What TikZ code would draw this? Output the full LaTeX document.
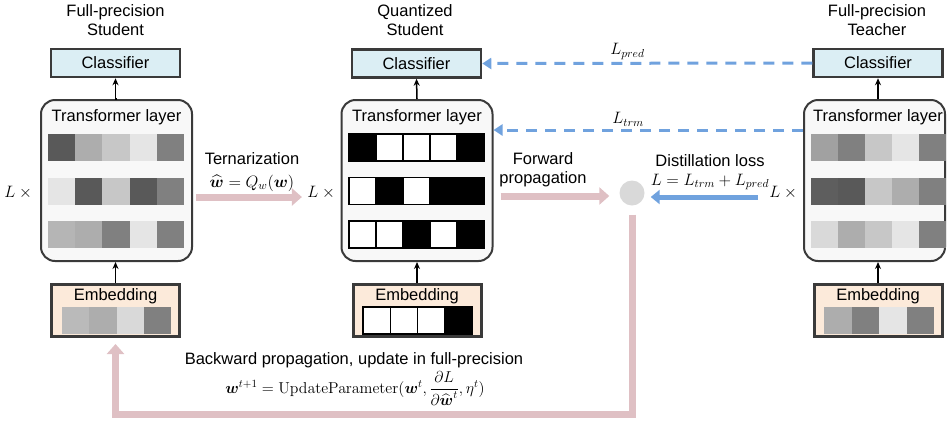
\RequirePackage{fix-cm}
\documentclass[tikz,border=0pt]{standalone}
\usepackage{amsmath}
\usepackage[no-math]{fontspec}
\setmainfont{Liberation Sans}
\usetikzlibrary{arrows.meta, positioning, calc}

\definecolor{clsblue}{RGB}{219,238,244}
\definecolor{embpeach}{RGB}{252,234,218}
\definecolor{layergray}{RGB}{248,248,248}
\definecolor{edgegray}{RGB}{58,58,58}
\definecolor{fwdpink}{RGB}{223,192,196}
\definecolor{lossblue}{RGB}{112,162,222}
\definecolor{sumgray}{RGB}{217,217,217}

\tikzstyle{classifier} = [rectangle, draw=edgegray, line width=2.5pt, fill=clsblue, minimum width=129pt, minimum height=28pt]
\tikzstyle{layer} = [rectangle, rounded corners=14pt, draw=edgegray, line width=2pt, fill=layergray, minimum width=151pt, minimum height=161pt]
\tikzstyle{embed} = [rectangle, draw=edgegray, line width=3pt, fill=embpeach, minimum width=128pt, minimum height=52pt]
\tikzstyle{lbl}  = [inner sep=1pt]
\tikzstyle{up}   = [line width=1.5pt, -{Stealth[length=7pt, width=6pt]}, black]
\tikzstyle{fat}  = [line width=7pt, fwdpink, -{Triangle[length=10pt, width=17pt]}]
\tikzstyle{loss} = [line width=5pt, lossblue, -{Triangle[length=9pt, width=14pt]}]
\tikzstyle{dist} = [line width=3pt, lossblue, dash pattern=on 11pt off 8pt, -{Triangle[length=9pt, width=11pt]}]
\tikzstyle{bw}   = [draw=black, line width=1.2pt]
\tikzstyle{gr}   = []

% x0, centre y, cell width, cell style, colours
\newcommand{\cellrow}[5]{\foreach \c [count=\i from 0] in {#5} \path[#4, fill=\c] ({#1+\i*#3}, {#2-13.5}) rectangle ++(#3, 27);}

\begin{document}
\begin{tikzpicture}[x=1pt, y=-1pt, font=\fontsize{16.5}{19}\selectfont]
	\useasboundingbox (0,0) rectangle (947,424);

	% Full-precision student
	\node (titleS) [align=center] at (115.5,20.5) {Full-precision\\Student};
	\node (clsS) [classifier] at (115.5,63) {Classifier};
	\node (layerS) [layer] at (116.5,180.5) {};
	\node (embS) [embed] at (115.5,310.5) {};
	\node (layerSname) at (116.5,117) {Transformer layer};
	\node (embSname) at (115.5,296) {Embedding};
	\node (lxS) at (20,193) {$L\times{}$};
	\cellrow{48}{147.5}{27.2}{gr}{black!65, black!32, black!22, black!10, black!50}
	\cellrow{48}{191}{27.2}{gr}{black!10, black!65, black!22, black!65, black!50}
	\cellrow{48}{234.5}{27.2}{gr}{black!29, black!32, black!50, black!10, black!50}
	\cellrow{62}{320.5}{27.25}{gr}{black!27, black!32, black!15, black!50}

	% Quantized student
	\node (titleQ) [align=center] at (415,20.5) {Quantized\\Student};
	\node (clsQ) [classifier] at (416.5,63.5) {Classifier};
	\node (layerQ) [layer] at (417,180.5) {};
	\node (embQ) [embed] at (417,310.5) {};
	\node (layerQname) at (417,117) {Transformer layer};
	\node (embQname) at (417,296) {Embedding};
	\node (lxQ) at (323,193) {$L\times{}$};
	\cellrow{349}{147.5}{27}{bw}{black, white, white, white, black}
	\cellrow{349}{191}{27}{bw}{white, black, white, black, black}
	\cellrow{349}{234.5}{27}{bw}{white, white, black, white, black}
	\cellrow{363}{320.5}{27.25}{bw}{white, white, white, black}

	% Full-precision teacher
	\node (titleT) [align=center] at (877,20.5) {Full-precision\\Teacher};
	\node (clsT) [classifier] at (878,63) {Classifier};
	\node (layerT) [layer, minimum width=141pt] at (874.5,180.5) {};
	\node (embT) [embed] at (878,310.5) {};
	\node (layerTname) at (878,117) {Transformer layer};
	\node (embTname) at (878,296) {Embedding};
	\node (lxT) at (785,193) {$L\times{}$};
	\cellrow{811}{147.5}{27}{gr}{black!37, black!50, black!22, black!10, black!50}
	\cellrow{811}{191}{27}{gr}{black!63, black!65, black!22, black!32, black!50}
	\cellrow{811}{234.5}{27}{gr}{black!15, black!32, black!22, black!10, black!50}
	\cellrow{824}{320.5}{27.5}{gr}{black!32, black!50, black!10, black!50}

	% Loss node
	\node (sum) [circle, fill=sumgray, minimum size=25pt, inner sep=0pt] at (632,193) {};
	\coordinate (botline) at (0,414);

	% Labels
	\node (ternS) [lbl] at (252,158.5) {Ternarization};
	\node (ternF) [lbl] at (252,183) {$\widehat{\boldsymbol{w}}=Q_w(\boldsymbol{w})$};
	\node (fwd) [lbl, align=center] at (543,170) {Forward\\propagation};
	\node (distS) [lbl] at (710,161) {Distillation loss};
	\node (distF) [lbl] at (710,182) {$L=L_{trm}+L_{pred}$};
	\node (bwdS) [lbl] at (354,360) {Backward propagation, update in full-precision};
	\node (bwdF) [lbl, font=\fontsize{15.8}{18}\selectfont] at (355,388.5) {$\boldsymbol{w}^{t+1}=\mathrm{UpdateParameter}(\boldsymbol{w}^{t},\dfrac{\partial L}{\partial\widehat{\boldsymbol{w}}^{t}},\eta^{t})$};

	% Arrows
	\draw[up] (layerS.north) -- (layerS.north-|clsS.south) -- (clsS.south);
	\draw[up] (embS.north) -- (embS.north|-layerS.south);
	\draw[up] (layerQ.north) -- (clsQ.south);
	\draw[up] (embQ.north) -- (embQ.north|-layerQ.south);
	\draw[up] (clsT.south|-layerT.north) -- (clsT.south);
	\draw[up] (embT.north) -- (embT.north|-layerT.south);

	\draw[fat] ([shift={(3pt,-16.5pt)}]layerS.east) -- ([shift={(-2pt,-4pt)}]lxQ.west);
	\draw[fat] ([shift={(7pt,-15.5pt)}]layerQ.east) -- ([shift={(-10pt,-3pt)}]sum.west);
	\draw[loss] ([shift={(-8pt,-4pt)}]lxT.west) -- ([shift={(6pt,-4pt)}]sum.east);

	\draw[dist] (clsT.west) -- node[pos=0.56, above=-1pt, text=black] (lpred) {$L_{pred}$} (clsQ.east);
	\draw[dist] ([yshift=50.5pt]layerT.west) -- node[pos=0.565, above=-1pt, text=black] (ltrm) {$L_{trm}$} ([yshift=50.5pt]layerQ.east);

	\draw[fat, line join=miter] ([yshift=-9pt]sum.south) -- (sum.south|-botline) -- (embS.south|-botline) -- ([yshift=-6pt]embS.south);
\end{tikzpicture}
\end{document}
